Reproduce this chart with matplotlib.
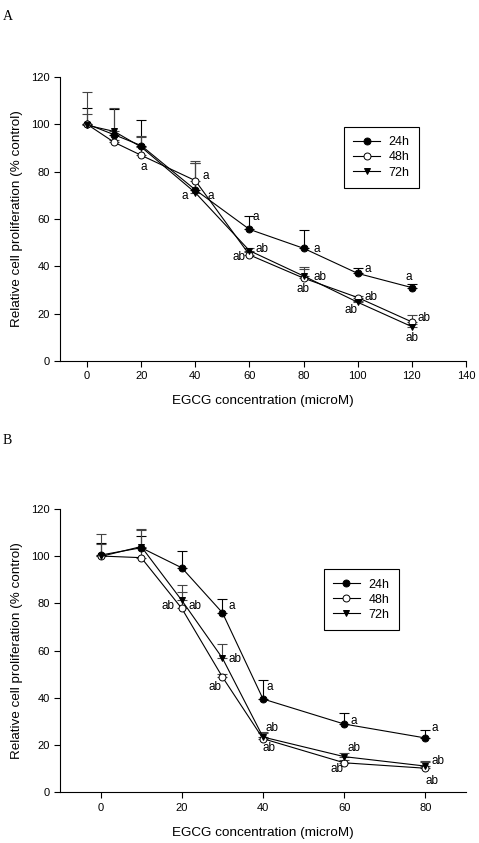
import numpy as np
import matplotlib.pyplot as plt

plt.rcParams['font.family'] = ['Liberation Sans', 'DejaVu Sans']

# panel A data
conc_a = [0, 10, 20, 40, 60, 80, 100, 120]
a_24 = [100.1, 95.6, 91.0, 72.3, 55.6, 47.6, 37.0, 31.0]
a_48 = [100.0, 92.4, 86.9, 76.2, 44.8, 35.0, 26.8, 16.5]
a_72 = [99.6, 97.0, 90.4, 71.1, 46.6, 35.9, 24.8, 14.5]
# upper ends of error bars
a_24_top = [106.8, 106.5, 101.8, 83.5, 61.3, 55.2, 39.4, 32.7]
a_48_top = [113.5, 93.5, 94.6, 84.5, 46.0, 39.9, 27.5, 19.4]
a_72_top = [104.2, 107.0, 95.2, 83.5, 47.6, 38.7, 25.5, 15.5]

# panel B data
conc_b = [0, 10, 20, 30, 40, 60, 80]
b_24 = [100.4, 103.5, 95.0, 76.0, 39.5, 28.9, 23.0]
b_48 = [100.0, 99.3, 77.8, 48.8, 22.7, 12.5, 10.2]
b_72 = [99.8, 104.0, 81.2, 56.8, 23.4, 15.1, 11.1]
b_24_top = [105.3, 108.6, 102.0, 81.8, 47.5, 33.6, 26.5]
b_48_top = [109.4, 111.0, 84.6, 50.0, 25.0, 13.5, 13.0]
b_72_top = [105.0, 111.5, 87.6, 62.6, 25.7, 16.5, 13.4]

# significance letters (x, y, text)
notes_a = [(21, 81.8, 'a'), (43.7, 78.3, 'a'), (36.2, 69.9, 'a'), (45.8, 69.9, 'a'),
           (62.4, 61.0, 'a'), (64.7, 47.5, 'ab'), (56.0, 43.8, 'ab'),
           (84.8, 47.5, 'a'), (86.0, 35.5, 'ab'), (79.7, 30.3, 'ab'),
           (103.8, 38.7, 'a'), (104.9, 27.0, 'ab'), (97.4, 21.5, 'ab'),
           (118.8, 35.5, 'a'), (124.6, 18.3, 'ab'), (120.0, 9.7, 'ab')]
notes_b = [(16.6, 78.8, 'ab'), (23.2, 78.8, 'ab'), (32.4, 78.8, 'a'),
           (33.1, 56.3, 'ab'), (28.1, 44.4, 'ab'), (41.6, 44.4, 'a'),
           (42.3, 27.1, 'ab'), (41.5, 18.6, 'ab'), (62.4, 30.3, 'a'),
           (62.3, 18.6, 'ab'), (58.1, 9.9, 'ab'), (82.3, 27.1, 'a'),
           (83.0, 13.3, 'ab'), (81.5, 4.8, 'ab')]


def draw(ax, x, series, tops, notes, xlim, xticks):
    styles = [('24h', 'o', 'black', 'black'),
              ('48h', 'o', 'white', '#444444'),
              ('72h', 'v', 'black', '#444444')]
    for (lab, mk, fc, ec), y, top in zip(styles, series, tops):
        y = np.array(y)
        up = np.array(top) - y
        ax.errorbar(x, y, yerr=[np.zeros_like(up), up], fmt='none',
                    ecolor=ec, elinewidth=0.8, capsize=3.5, capthick=0.8, zorder=2)
        ax.plot(x, y, color='black', lw=0.8, marker=mk, ms=5,
                mfc=fc, mec='black', mew=0.7, label=lab, zorder=3)
    for nx, ny, t in notes:
        ax.text(nx, ny, t, fontsize=8.5, ha='center', va='center')
    ax.set_xlim(*xlim)
    ax.set_ylim(0, 120)
    ax.set_xticks(xticks)
    ax.set_yticks(range(0, 121, 20))
    for s in ['top', 'right']:
        ax.spines[s].set_visible(False)
    for s in ['left', 'bottom']:
        ax.spines[s].set_linewidth(0.8)
    ax.tick_params(labelsize=8, width=0.8, length=4)
    ax.set_xlabel('EGCG concentration (microM)', fontsize=9.7, labelpad=10)
    ax.set_ylabel('Relative cell proliferation (% control)', fontsize=9.7, labelpad=6)


def add_legend(ax, x0, y0):
    leg = ax.legend(loc='upper left', bbox_to_anchor=(x0, y0), fontsize=9,
                    fancybox=False, edgecolor='black', framealpha=1,
                    handlelength=2.1, handletextpad=0.7, borderpad=0.75,
                    labelspacing=0.25, borderaxespad=0)
    leg.get_frame().set_linewidth(0.8)


fig = plt.figure(figsize=(4.79, 8.43), dpi=100)

ax1 = fig.add_axes([0.1253, 0.5718, 0.8476, 0.3369])
draw(ax1, conc_a, [a_24, a_48, a_72], [a_24_top, a_48_top, a_72_top],
     notes_a, (-10, 140), range(0, 141, 20))
add_legend(ax1, 0.6995, 0.824)

ax2 = fig.add_axes([0.1253, 0.0601, 0.8476, 0.3364])
draw(ax2, conc_b, [b_24, b_48, b_72], [b_24_top, b_48_top, b_72_top],
     notes_b, (-10, 90), range(0, 81, 20))
add_legend(ax2, 0.650, 0.787)

fig.text(0.006, 0.988, 'A', fontsize=10, family='Liberation Serif', va='top')
fig.text(0.006, 0.485, 'B', fontsize=10, family='Liberation Serif', va='top')

fig.savefig('out.png', dpi=100)
